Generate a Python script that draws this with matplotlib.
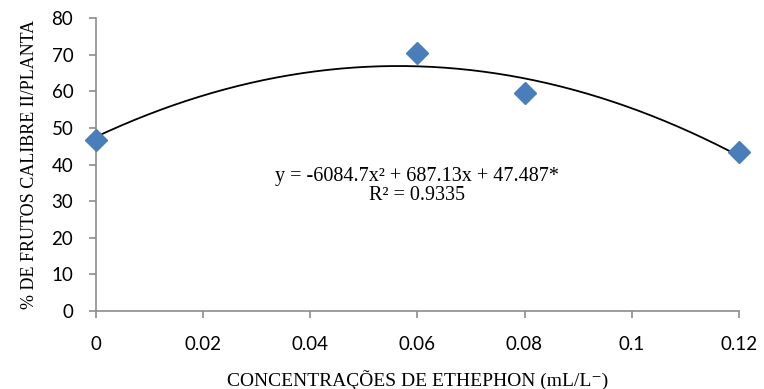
import numpy as np
import matplotlib.pyplot as plt

# dados
conc = [0.0, 0.06, 0.08, 0.12]
frutos = [46.7, 70.4, 59.4, 43.4]
coef = [-6084.7, 687.13, 47.487]  # ajuste quadratico mostrado no grafico
eq_text = 'y = -6084.7x² + 687.13x + 47.487*'
r2_text = 'R² = 0.9335'
xticks = [0, 0.02, 0.04, 0.06, 0.08, 0.1, 0.12]
xtick_labels = ['0', '0.02', '0.04', '0.06', '0.08', '0.1', '0.12']
yticks = list(range(0, 81, 10))

fig = plt.figure(figsize=(7.64, 3.89), dpi=100)
ax = fig.add_axes([95.5 / 764, 1 - 311 / 389, (739 - 95.5) / 764, (311 - 18) / 389])

xs = np.linspace(0, 0.12, 200)
ax.plot(xs, np.polyval(coef, xs), color='black', lw=1.3, zorder=2)
ax.plot(conc, frutos, 'D', color='#4A7EBB', markersize=11.5, zorder=3, clip_on=False)

ax.set_xlim(0, 0.12)
ax.set_ylim(0, 80)
ax.set_xticks(xticks)
ax.set_xticklabels(xtick_labels)
ax.set_yticks(yticks)

grey = '#8c8c8c'
for s in ['top', 'right']:
    ax.spines[s].set_visible(False)
for s in ['left', 'bottom']:
    ax.spines[s].set_color(grey)
    ax.spines[s].set_linewidth(1.2)
ax.tick_params(axis='both', colors=grey, length=5, width=1.2, direction='out',
               labelcolor='black', labelsize=13.5)
ax.tick_params(axis='x', pad=13)
ax.tick_params(axis='y', pad=11)
for lab in ax.get_xticklabels() + ax.get_yticklabels():
    lab.set_family('Lato')

serif = ['Liberation Serif', 'DejaVu Serif']
ax.set_xlabel('CONCENTRAÇÕES DE ETHEPHON (mL/L⁻)', family=serif, fontsize=14, labelpad=12)
ax.set_ylabel('% DE FRUTOS CALIBRE II/PLANTA', family=serif, fontsize=13, labelpad=10)

ax.text(0.06, 36.6, eq_text, family=serif, fontsize=14.5, ha='center', va='center')
ax.text(0.06, 31.6, r2_text, family=serif, fontsize=14.5, ha='center', va='center')

fig.savefig('out.png', dpi=100)
